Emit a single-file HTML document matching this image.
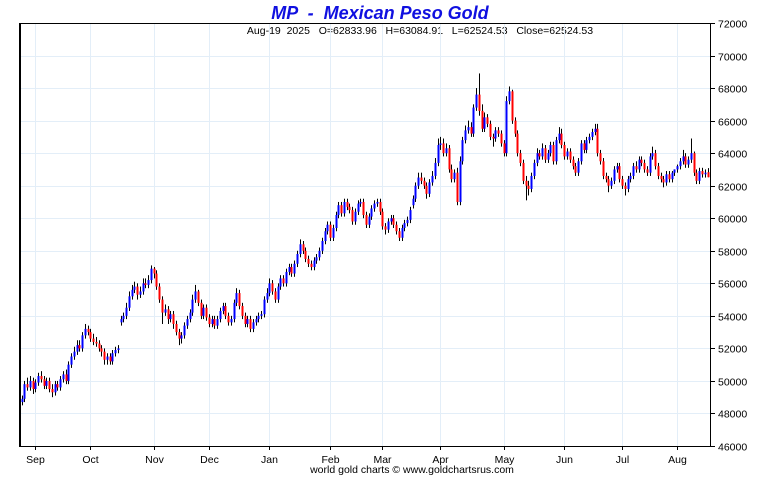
<!DOCTYPE html>
<html><head><meta charset="utf-8"><style>
body{margin:0;background:#fff;}
svg text{font-family:"Liberation Sans",sans-serif;white-space:pre;}
</style></head><body>
<svg id="chart" width="760" height="475" viewBox="0 0 760 475" xmlns="http://www.w3.org/2000/svg" xml:space="preserve">
<rect x="0" y="0" width="760" height="475" fill="#fff"/>
<text x="380" y="19" text-anchor="middle" font-size="18" font-weight="bold" font-style="italic" fill="#1010e0">MP  -  Mexican Peso Gold</text>
<text x="420" y="34" text-anchor="middle" font-size="10.5" fill="#000">Aug-19  2025   O=62833.96   H=63084.91   L=62524.53   Close=62524.53</text>
<text x="412" y="473" text-anchor="middle" font-size="10.5" fill="#000">world gold charts © www.goldchartsrus.com</text>
<g id="grid"></g><g id="bars"></g><g id="axes"></g>
</svg>
<script>
const yTicks=[46000,48000,50000,52000,54000,56000,58000,60000,62000,64000,66000,68000,70000,72000];
const monthLabels=["Sep","Oct","Nov","Dec","Jan","Feb","Mar","Apr","May","Jun","Jul","Aug"];
const monthBarIndex=[5,25,48,68,90,112,131,152,175,197,218,238];
const openK=[48.7,48.9,49.8,49.6,50.0,49.5,49.9,50.3,50.1,49.7,50.0,49.5,49.3,49.8,49.6,50.1,50.4,50.0,51.0,51.5,51.8,52.2,52.0,52.8,53.2,53.0,52.6,52.4,52.3,52.0,51.8,51.3,51.5,51.2,51.7,51.9,53.6,53.8,54.0,54.5,55.2,55.6,55.8,55.3,55.5,56.0,55.9,56.2,56.9,56.6,55.8,55.0,54.2,54.4,53.8,54.1,53.5,53.0,52.6,52.8,53.4,53.8,54.2,55.0,55.5,54.8,54.0,54.5,53.9,53.5,53.8,53.4,53.8,54.3,54.6,54.0,53.6,53.8,54.8,55.4,54.6,54.0,53.5,53.8,53.2,53.6,53.8,54.0,54.1,55.0,55.4,56.0,55.5,55.0,55.8,56.3,56.0,56.7,57.0,56.6,57.2,57.8,58.4,58.0,57.5,57.2,57.0,57.4,57.6,58.0,58.6,59.2,59.6,58.8,59.4,60.2,60.8,60.3,61.0,60.7,60.5,59.8,60.4,60.9,61.0,60.2,59.6,60.1,60.6,60.9,61.0,60.4,59.5,59.3,59.8,60.0,59.6,59.2,58.8,59.4,59.7,59.9,60.8,61.2,62.0,62.5,62.3,62.0,61.5,62.2,62.6,63.4,64.5,64.6,64.0,64.3,63.0,62.4,62.8,61.0,63.5,64.8,65.4,65.6,65.2,66.8,67.6,66.6,65.5,66.2,65.8,65.0,64.9,65.4,65.2,64.6,64.0,67.2,67.8,66.0,65.2,64.0,63.4,62.3,62.0,61.8,62.6,63.4,64.0,63.8,64.3,63.6,64.0,64.5,63.5,64.8,65.2,64.5,63.8,64.1,63.6,63.2,62.8,63.5,64.6,64.2,64.8,65.0,65.3,65.5,64.0,63.5,62.6,62.4,62.0,62.3,63.0,63.2,62.4,62.0,61.8,62.4,62.6,63.2,63.0,63.6,63.4,63.0,62.8,63.8,64.0,63.2,62.6,62.4,62.2,62.7,62.4,62.8,63.0,63.2,63.5,63.8,63.3,63.6,64.0,62.8,62.3,62.9,62.7,62.83];
const highK=[49.1,50.0,50.2,50.3,50.2,50.1,50.5,50.6,50.3,50.2,50.2,49.8,50.0,50.0,50.3,50.6,50.7,51.2,51.7,52.1,52.5,52.5,53.0,53.5,53.4,53.2,52.9,52.7,52.5,52.2,52.0,51.7,51.7,51.9,52.1,52.2,54.0,54.2,54.8,55.5,55.9,56.1,56.0,55.8,56.3,56.3,56.5,57.1,57.0,56.8,56.0,55.2,54.7,54.6,54.3,54.3,53.7,53.2,53.0,53.6,54.0,54.4,55.3,55.9,55.6,55.0,54.7,54.7,54.1,54.0,54.0,54.0,54.5,54.8,54.8,54.2,54.0,55.0,55.7,55.6,54.8,54.2,54.0,54.0,53.8,54.0,54.2,54.3,55.2,55.7,56.3,56.2,55.7,56.0,56.5,56.5,56.9,57.2,57.2,57.4,58.0,58.7,58.6,58.2,57.7,57.4,57.6,57.8,58.2,58.8,59.4,59.8,59.8,59.6,60.4,61.0,61.0,61.2,61.2,60.9,60.7,60.6,61.1,61.2,61.2,60.4,60.3,60.8,61.1,61.2,61.2,60.6,59.7,60.0,60.2,60.2,59.8,59.4,59.6,59.9,60.1,60.7,61.4,62.2,62.8,62.8,62.5,62.2,62.4,62.9,63.7,64.9,65.0,64.9,64.6,64.5,63.3,63.0,63.1,63.8,65.0,65.7,66.0,65.9,67.0,68.0,68.9,67.0,66.5,66.4,66.0,65.2,65.6,65.6,65.4,64.8,67.5,68.1,67.9,66.2,65.4,64.2,63.6,62.6,62.3,62.8,63.6,64.3,64.2,64.6,64.5,64.2,64.7,64.7,65.0,65.6,65.5,64.7,64.3,64.3,63.8,63.4,63.7,64.8,64.8,65.0,65.2,65.5,65.8,65.8,64.2,63.7,62.8,62.6,62.5,63.2,63.4,63.4,62.6,62.2,62.6,62.8,63.4,63.5,63.8,63.8,63.6,63.2,64.0,64.4,64.2,63.4,62.8,62.6,62.9,62.9,62.9,63.0,63.3,63.7,64.2,64.0,63.8,64.9,64.1,63.0,63.1,63.1,63.0,63.08];
const lowK=[48.5,48.7,49.4,49.4,49.2,49.3,49.7,49.9,49.5,49.5,49.3,49.0,49.1,49.4,49.4,49.9,49.8,49.8,50.8,51.3,51.6,51.8,51.8,52.6,52.8,52.4,52.2,52.1,51.8,51.5,51.0,51.0,51.0,51.0,51.5,51.7,53.4,53.6,53.8,54.3,55.0,55.4,55.0,55.1,55.3,55.7,55.7,56.0,56.3,55.6,54.8,53.5,54.0,53.5,53.6,53.2,52.8,52.2,52.3,52.6,53.2,53.6,54.0,54.8,54.6,53.8,53.8,53.7,53.3,53.3,53.2,53.2,53.6,54.1,53.8,53.4,53.4,53.6,54.6,54.4,53.8,53.3,53.3,53.0,53.0,53.4,53.6,53.8,53.9,54.8,55.2,55.3,54.8,54.8,55.6,55.8,55.8,56.5,56.4,56.4,57.0,57.6,57.8,57.3,57.0,56.8,56.8,57.2,57.4,57.8,58.4,59.0,58.6,58.6,59.2,60.0,60.1,60.1,60.5,60.3,59.6,59.6,60.2,60.7,60.0,59.4,59.4,59.9,60.4,60.7,60.2,59.3,59.0,59.1,59.6,59.4,59.0,58.6,58.6,59.2,59.5,59.7,60.6,61.0,61.8,62.1,61.8,61.2,61.3,62.0,62.4,63.2,64.2,63.8,63.8,62.8,62.2,62.2,60.8,60.8,63.3,64.6,65.2,65.0,65.0,66.6,66.3,65.3,65.3,65.6,64.8,64.4,64.7,65.0,64.4,63.8,63.8,67.0,65.8,65.0,63.8,63.2,62.1,61.1,61.4,61.6,62.4,63.2,63.6,63.6,63.4,63.4,63.8,63.3,63.3,64.6,64.3,63.6,63.6,63.4,63.0,62.6,62.6,63.3,64.0,64.0,64.6,64.8,65.1,63.8,63.3,62.4,62.2,61.6,61.8,62.1,62.8,62.2,61.8,61.4,61.6,62.2,62.4,62.8,62.8,63.2,62.8,62.6,62.6,63.6,63.0,62.4,62.2,61.9,62.0,62.2,62.2,62.6,62.8,63.0,63.3,63.1,63.1,63.4,62.6,62.1,62.1,62.5,62.5,62.52];
const closeK=[48.9,49.8,49.6,50.0,49.5,49.9,50.3,50.1,49.7,50.0,49.5,49.3,49.8,49.6,50.1,50.4,50.0,51.0,51.5,51.8,52.2,52.0,52.8,53.2,53.0,52.6,52.4,52.3,52.0,51.8,51.3,51.5,51.2,51.7,51.9,52.0,53.8,54.0,54.5,55.2,55.6,55.8,55.3,55.5,56.0,55.9,56.2,56.9,56.6,55.8,55.0,54.2,54.4,53.8,54.1,53.5,53.0,52.6,52.8,53.4,53.8,54.2,55.0,55.5,54.8,54.0,54.5,53.9,53.5,53.8,53.4,53.8,54.3,54.6,54.0,53.6,53.8,54.8,55.4,54.6,54.0,53.5,53.8,53.2,53.6,53.8,54.0,54.1,55.0,55.4,56.0,55.5,55.0,55.8,56.3,56.0,56.7,57.0,56.6,57.2,57.8,58.4,58.0,57.5,57.2,57.0,57.4,57.6,58.0,58.6,59.2,59.6,58.8,59.4,60.2,60.8,60.3,61.0,60.7,60.5,59.8,60.4,60.9,61.0,60.2,59.6,60.1,60.6,60.9,61.0,60.4,59.5,59.3,59.8,60.0,59.6,59.2,58.8,59.4,59.7,59.9,60.5,61.2,62.0,62.5,62.3,62.0,61.5,62.2,62.6,63.4,64.5,64.6,64.0,64.3,63.0,62.4,62.8,61.0,63.5,64.8,65.4,65.6,65.2,66.8,67.6,66.6,65.5,66.2,65.8,65.0,64.9,65.4,65.2,64.6,64.0,67.2,67.8,66.0,65.2,64.0,63.4,62.3,62.0,61.8,62.6,63.4,64.0,63.8,64.3,63.6,64.0,64.5,63.5,64.8,65.2,64.5,63.8,64.1,63.6,63.2,62.8,63.5,64.6,64.2,64.8,65.0,65.3,65.5,64.0,63.5,62.6,62.4,62.0,62.3,63.0,63.2,62.4,62.0,61.8,62.4,62.6,63.2,63.0,63.6,63.4,63.0,62.8,63.8,64.0,63.2,62.6,62.4,62.2,62.7,62.4,62.8,63.0,63.2,63.5,63.8,63.3,63.6,64.0,62.8,62.3,62.9,62.7,62.8,62.52];

const NS="http://www.w3.org/2000/svg";
const L=20,R=710,T=23,B=446,yMin=46000,yMax=72000;
const n=closeK.length;
function yS(v){return B-(v-yMin)/(yMax-yMin)*(B-T);}
function xS(i){return 21.5+i*(707.5-21.5)/(n-1);}
function mk(tag,attrs,parent){const e=document.createElementNS(NS,tag);for(const k in attrs)e.setAttribute(k,attrs[k]);parent.appendChild(e);return e;}
const grid=document.getElementById('grid'),bars=document.getElementById('bars'),axes=document.getElementById('axes');
yTicks.forEach(v=>{const y=Math.round(yS(v))+0.5;
 const g=mk('line',{x1:L,x2:R,y1:y,y2:y,stroke:'#e3eef8','stroke-width':1},grid);
 
 const t=mk('line',{x1:R,x2:R+5,y1:y,y2:y,stroke:'#000','stroke-width':1},axes);
 
 const tx=mk('text',{x:R+8,y:y+4,'font-size':10.5,fill:'#000'},axes);tx.textContent=v;
 
});
monthLabels.forEach((m,k)=>{const x=Math.round(xS(monthBarIndex[k]))+0.5;
 const g=mk('line',{x1:x,x2:x,y1:T,y2:B,stroke:'#e3eef8','stroke-width':1},grid);
 
 const t=mk('line',{x1:x,x2:x,y1:B,y2:B+4,stroke:'#000','stroke-width':1},axes);
 
 const tx=mk('text',{x:x,y:463,'font-size':10.5,'text-anchor':'middle',fill:'#000'},axes);tx.textContent=m;
 
});
const fr=mk('path',{d:`M${L}.5 ${T}.5 H${R}.5 V${B}.5 H${L}.5 Z`,fill:'none',stroke:'#000','stroke-width':1},axes);

const la=mk('line',{x1:L,x2:L,y1:T,y2:B+1,stroke:'#000','stroke-width':2},axes);

for(let i=0;i<n;i++){
 const o=openK[i]*1000,h=highK[i]*1000,l=lowK[i]*1000,c=closeK[i]*1000;
 const x=Math.round(xS(i));
 const w=mk('rect',{x:x,y:yS(h),width:1,height:Math.max(1,yS(l)-yS(h)),fill:'#000'},bars);
 
 const top=yS(Math.max(o,c)),bot=yS(Math.min(o,c));
 const b=mk('rect',{x:x-0.5,y:top,width:2,height:Math.max(1.2,bot-top),fill:c>=o?'#0000ff':'#ff0000'},bars);
 
}
</script>
</body></html>
